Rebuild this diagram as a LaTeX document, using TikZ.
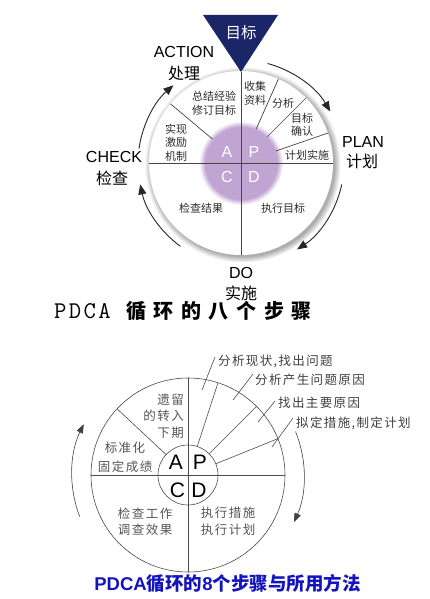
\documentclass[tikz,border=0pt]{standalone}
\usepackage{fontspec}
\setmainfont{Liberation Sans}
\newfontfamily\cjk{Noto Sans CJK SC}
\newfontfamily\monof{Latin Modern Mono}
\usetikzlibrary{arrows.meta}
\definecolor{navy}{RGB}{27,38,104}
\definecolor{lav}{RGB}{192,164,210}
\definecolor{ln}{RGB}{70,70,70}
\definecolor{txt}{RGB}{45,45,45}
\definecolor{btxt}{RGB}{85,85,85}
\definecolor{ttlblue}{RGB}{20,20,190}
\pgfdeclareradialshading{ringshade}{\pgfpoint{0bp}{0bp}}{color(0bp)=(black!32); color(23.4bp)=(black!32); color(25bp)=(white); color(50bp)=(white)}
\pgfdeclareradialshading{purpshade}{\pgfpoint{0bp}{0bp}}{color(0bp)=(lav); color(21.5bp)=(lav); color(25bp)=(white); color(50bp)=(white)}
\begin{document}
\begin{tikzpicture}[x=1pt,y=-1pt,
  lbl/.style={font=\fontsize{16}{18}\selectfont, text=black, inner sep=0pt},
  clbl/.style={font=\cjk\fontsize{16}{18}\selectfont, text=black, inner sep=0pt},
  sec/.style={font=\cjk\fontsize{11}{13.5}\selectfont, text=txt, inner sep=0pt, align=center},
  seg/.style={draw=ln, line width=0.7pt},
  cyc/.style={draw=black!85, line width=0.9pt, -{Triangle[length=10pt,width=8pt]}},
  bsec/.style={font=\cjk\fontsize{12.5}{16.5}\selectfont\addfontfeature{LetterSpace=12}, text=btxt, inner sep=0pt, align=center},
  bseg/.style={draw=black!70, line width=0.6pt},
  bcyc/.style={draw=black!75, line width=0.6pt, -{Triangle[length=9pt,width=6.5pt]}},
  ptr/.style={font=\cjk\fontsize{12.5}{14}\selectfont\addfontfeature{LetterSpace=11}, text=black!75, inner sep=0pt, anchor=west},
  letw/.style={font=\fontsize{16}{18}\selectfont, text=white, inner sep=0pt},
  letb/.style={font=\fontsize{21}{24}\selectfont, text=black, inner sep=0pt}]
\useasboundingbox (0,0) rectangle (429,599);
\fill[white] (0,0) rectangle (429,599);

% ---------- top diagram ----------
\begin{scope}[shift={(241,163)}]
  \shade[shading=ringshade] (1.5,1.5) circle (98);
  \fill[white] (0,0) circle (92);
  \shade[shading=purpshade] (0,0) circle (42);
  \draw[seg] (0,-91) -- (0,92);
  \draw[seg] (-92,0) -- (92,0);
  \foreach \a in {66,45,19,140} \draw[seg] (-\a:37) -- (-\a:92);
  \draw[cyc] (-172:103) arc[start angle=-172, end angle=-131, radius=103];
  \draw[cyc] (-75:103) arc[start angle=-75, end angle=-30, radius=103];
  \draw[cyc] (12:103) arc[start angle=12, end angle=57, radius=103];
  \draw[cyc] (-234:103) arc[start angle=-234, end angle=-192, radius=103];
\end{scope}
\fill[navy] (203,15) -- (278,15) -- (241,72) -- cycle;
\node[font=\cjk\fontsize{15.5}{17}\selectfont, text=white, inner sep=0pt] (goal) at (241,33) {目标};

\node[letw] (A1) at (227,152) {A};
\node[letw] (P1) at (254,152) {P};
\node[letw] (C1) at (227,177) {C};
\node[letw] (D1) at (254,177) {D};

\node[sec] (s1) at (255,93.5) {收集\\资料};
\node[sec] (s2) at (283,103) {分析};
\node[sec] (s3) at (302,125) {目标\\确认};
\node[sec] (s4) at (307,155) {计划实施};
\node[sec] (s5) at (214,103.5) {总结经验\\修订目标};
\node[sec] (s6) at (176,142.5) {实现\\激励\\机制};
\node[sec] (s7) at (201,208) {检查结果};
\node[sec] (s8) at (283,208) {执行目标};

\node[lbl] (act) at (184,52) {ACTION};
\node[clbl] (actc) at (184,73) {处理};
\node[lbl] (plan) at (363,142) {PLAN};
\node[clbl] (planc) at (362,161) {计划};
\node[lbl] (chk) at (114,157) {CHECK};
\node[clbl] (chkc) at (112,178) {检查};
\node[lbl] (do) at (241,273) {DO};
\node[clbl] (doc) at (241,293) {实施};

% ---------- middle title ----------
\node[font=\monof\fontsize{24}{26}\selectfont\addfontfeature{LetterSpace=10}, text=black, anchor=west, inner sep=0pt] (t1) at (54,311) {PDCA};
\node[font=\cjk\bfseries\fontsize{20}{22}\selectfont\addfontfeature{LetterSpace=38}, text=black, anchor=west, inner sep=0pt] (t2) at (126,311) {循环的八个步骤};

% ---------- bottom diagram ----------
\begin{scope}[shift={(188,475)}]
  \draw[bseg] (0,0) circle (97);
  \draw[bseg] (0,0) circle (30);
  \draw[bseg] (0,-97) -- (0,97);
  \draw[bseg] (-97,0) -- (97,0);
  \foreach \a in {137,72,45,22} \draw[bseg] (-\a:30) -- (-\a:97);
  \draw[bcyc] (-201:116) arc[start angle=-201, end angle=-154, radius=116];
  \draw[bcyc] (-22:116) arc[start angle=-22, end angle=24, radius=116];
\end{scope}

\node[letb] (A2) at (176,462) {A};
\node[letb] (P2) at (200,462) {P};
\node[letb] (C2) at (177.5,490) {C};
\node[letb] (D2) at (199,490) {D};

\node[bsec, align=right, anchor=east] (b1) at (184,416) {遗留\\的转入\\下期};
\node[bsec] (b2) at (125,457.5) {标准化\\[2pt]固定成绩};
\node[bsec] (b3) at (145,521.5) {检查工作\\调查效果};
\node[bsec] (b4) at (228,521.5) {执行措施\\执行计划};

\node[ptr] (p1) at (218,361) {分析现状,找出问题};
\node[ptr] (p2) at (255,380) {分析产生问题原因};
\node[ptr] (p3) at (278,403) {找出主要原因};
\node[ptr] (p4) at (296,423) {拟定措施,制定计划};
\coordinate (q1) at (202,390);
\coordinate (q2) at (233,400);
\coordinate (q3) at (258,422);
\coordinate (q4) at (272,447);
\draw[bseg] ([shift={(-3,-4)}]p1.west) -- (q1);
\draw[bseg] ([shift={(-2,-6)}]p2.west) -- (q2);
\draw[bseg] ([shift={(-3,-2)}]p3.west) -- (q3);
\draw[bseg] ([shift={(-3,-5)}]p4.west) -- (q4);

\node[font=\fontsize{18.5}{21}\selectfont, text=ttlblue, inner sep=0pt] (t3) at (227.5,583) {{\bfseries PDCA}{\cjk\bfseries 循环的}{\bfseries 8}{\cjk\bfseries 个步骤与所用方法}};
\end{tikzpicture}
\end{document}
